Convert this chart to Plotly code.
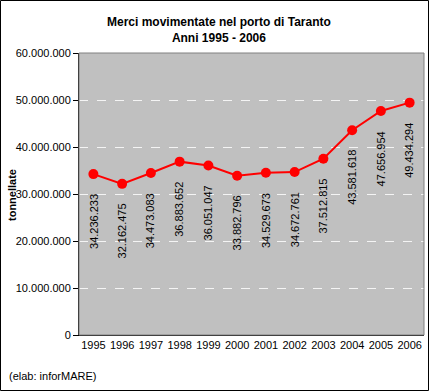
import plotly.graph_objects as go

years = ["1995", "1996", "1997", "1998", "1999", "2000", "2001", "2002", "2003", "2004", "2005", "2006"]
tonnellate = [34236233, 32162475, 34473083, 36883652, 36051047, 33882796,
              34529673, 34672761, 37512815, 43581618, 47656954, 49434294]
ytick_vals = [0, 10000000, 20000000, 30000000, 40000000, 50000000, 60000000]


def fmt(v):
    return f"{v:,}".replace(",", ".")


W, H = 429, 391
ML, MR, MT, MB = 79, 5, 53, 56
PW, PH = W - ML - MR, H - MT - MB
FONT = "Liberation Sans, Arial, sans-serif"

fig = go.Figure()
fig.add_trace(go.Scatter(
    x=years, y=tonnellate, mode="lines+markers",
    line=dict(color="#FF0000", width=2),
    marker=dict(color="#FF0000", size=10),
    hoverinfo="skip", showlegend=False,
))

annotations = []
for i, v in enumerate(tonnellate):
    annotations.append(dict(
        x=i, y=v, xref="x", yref="y", text=fmt(v), textangle=-90,
        showarrow=False, xanchor="center", yanchor="top", yshift=-18,
        font=dict(family=FONT, size=11, color="black"),
    ))

annotations += [
    dict(text="<b>Merci movimentate nel porto di Taranto<br>Anni 1995 - 2006</b>",
         xref="paper", yref="paper", x=(219 - ML) / PW, y=(H - MB - 30) / PH,
         xanchor="center", yanchor="middle", showarrow=False,
         font=dict(family=FONT, size=12, color="black")),
    dict(text="<b>tonnellate</b>", textangle=-90, xref="paper", yref="paper",
         x=(12 - ML) / PW, y=(H - MB - 195) / PH, xanchor="center", yanchor="middle",
         showarrow=False, font=dict(family=FONT, size=11, color="black")),
    dict(text="(elab: inforMARE)", xref="paper", yref="paper",
         x=(7 - ML) / PW, y=(H - MB - 376) / PH, xanchor="left", yanchor="middle",
         showarrow=False, font=dict(family=FONT, size=11, color="black")),
]

shapes = [
    dict(type="rect", xref="paper", yref="paper", x0=0, y0=0, x1=1, y1=1,
         line=dict(color="#808080", width=1), layer="above"),
    dict(type="rect", xref="paper", yref="paper",
         x0=(0.5 - ML) / PW, x1=(W - 0.5 - ML) / PW,
         y0=(H - MB - (H - 0.5)) / PH, y1=(H - MB - 0.5) / PH,
         line=dict(color="black", width=1)),
]

fig.update_layout(
    width=W, height=H,
    margin=dict(l=ML, r=MR, t=MT, b=MB, autoexpand=False),
    paper_bgcolor="white", plot_bgcolor="#C0C0C0",
    font=dict(family=FONT, size=11, color="black"),
    annotations=annotations, shapes=shapes,
)
fig.update_xaxes(
    type="category", range=[-0.5, 11.5], showgrid=False,
    showline=True, linecolor="black", linewidth=1, ticks="",
    tickfont=dict(size=11),
)
fig.update_yaxes(
    range=[0, 60000000], tickvals=ytick_vals, ticktext=[fmt(v) for v in ytick_vals],
    showgrid=True, gridcolor="#F4F4F4", griddash="dash", gridwidth=1,
    showline=True, linecolor="black", linewidth=1,
    ticks="outside", ticklen=5, tickcolor="black", zeroline=False,
    tickfont=dict(size=11),
)

fig.write_html("out.html", config={"displayModeBar": False},
               post_script="document.body.style.margin='0';document.body.style.overflow='hidden';")
